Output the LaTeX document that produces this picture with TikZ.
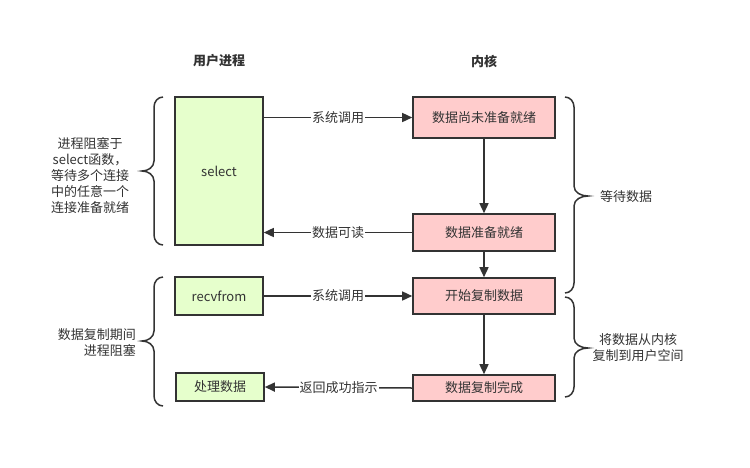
\documentclass[tikz,border=0pt]{standalone}
\usepackage{fontspec}
\setmainfont{Noto Sans CJK SC}
\usetikzlibrary{arrows.meta}
\definecolor{ink}{HTML}{333333}
\definecolor{ugreen}{HTML}{E6FFCC}
\definecolor{kpink}{HTML}{FFCCCC}
\begin{document}
\begin{tikzpicture}[x=1pt,y=-1pt,
  every node/.style={text=ink,font=\fontsize{13}{16}\selectfont,inner sep=0pt},
  ubox/.style={draw=ink,line width=1.6pt,fill=ugreen},
  kbox/.style={draw=ink,line width=1.6pt,fill=kpink},
  conn/.style={draw=ink,line width=1.5pt},
  arr/.style={conn,-{Triangle[length=10pt,width=9pt]}},
  lbl/.style={fill=white,inner xsep=1pt,inner ysep=1pt},
  brace/.style={draw=ink,line width=1.5pt},
  title/.style={font=\fontsize{13}{16}\selectfont\bfseries}]
\useasboundingbox (0,0) rectangle (750,467);
\fill[white] (0,0) rectangle (750,467);

\node[title] (tu) at (219,61) {用户进程};
\node[title] (tk) at (484,61) {内核};

\node[ubox,minimum width=88pt,minimum height=148pt] (sel) at (219,171) {select};
\node[ubox,minimum width=88pt,minimum height=38pt] (recv) at (219,296) {recvfrom};
\node[ubox,minimum width=88pt,minimum height=28pt] (proc) at (220,387) {处理数据};

\node[kbox,minimum width=142pt,minimum height=41pt] (k1) at (484,117.5) {数据尚未准备就绪};
\node[kbox,minimum width=142pt,minimum height=37pt] (k2) at (484,232.5) {数据准备就绪};
\node[kbox,minimum width=142pt,minimum height=36pt] (k3) at (484,296) {开始复制数据};
\node[kbox,minimum width=142pt,minimum height=26pt] (k4) at (484,388) {数据复制完成};

\draw[arr] (sel.east |- k1.west) -- node[lbl] (l1) {系统调用} (k1.west);
\draw[arr] (k2.west) -- node[lbl] (l2) {数据可读} (sel.east |- k2.west);
\draw[arr] (k1.south) -- (k2.north);
\draw[arr] (k2.south) -- (k3.north);
\draw[arr] (recv.east) -- node[lbl] (l3) {系统调用} (k3.west);
\draw[arr] (k3.south) -- (k4.north);
\draw[arr] (k4.west) -- node[lbl] (l4) {返回成功指示} (proc.east);

% left braces
\draw[brace] (163,97) to[out=180,in=90] (154,107) -- (154,161) to[out=-90,in=0] (142,171)
  to[out=0,in=90] (154,181) -- (154,235) to[out=-90,in=180] (163,245);
\draw[brace] (163,277) to[out=180,in=90] (154,287) -- (154,331) to[out=-90,in=0] (142,341)
  to[out=0,in=90] (154,351) -- (154,396) to[out=-90,in=180] (163,406);
% right braces
\draw[brace] (565,97) to[out=0,in=90] (574,107) -- (574,186) to[out=-90,in=180] (588,196)
  to[out=180,in=90] (574,206) -- (574,283) to[out=-90,in=0] (565,293);
\draw[brace] (565,297) to[out=0,in=90] (574,307) -- (574,338) to[out=-90,in=180] (588,348)
  to[out=180,in=90] (574,358) -- (574,387) to[out=-90,in=0] (565,397);

\node[align=center] (t1) at (90,176) {进程阻塞于\\select函数，\\等待多个连接\\中的任意一个\\连接准备就绪};
\node[align=right,anchor=east] (t2) at (136,343) {数据复制期间\\进程阻塞};
\node[anchor=west] (t3) at (600,197) {等待数据};
\node[align=center] (t4) at (638,348) {将数据从内核\\复制到用户空间};
\end{tikzpicture}
\end{document}
